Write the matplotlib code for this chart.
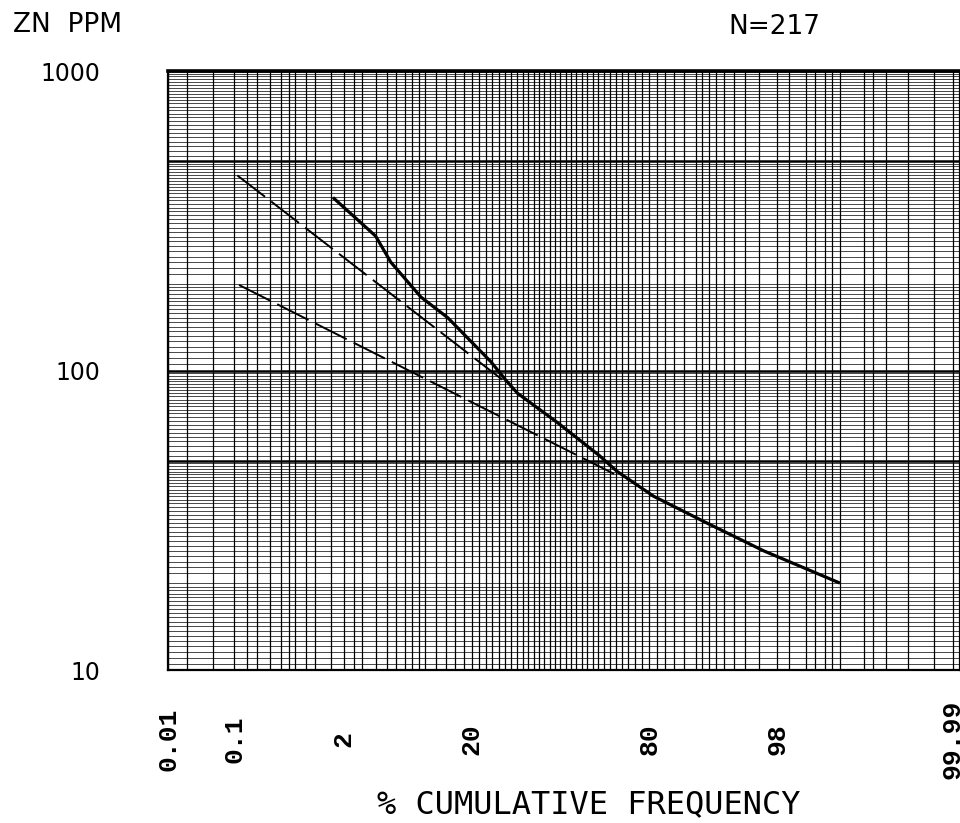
import math
import numpy as np
import matplotlib
matplotlib.use("Agg")
import matplotlib.pyplot as plt
from matplotlib.ticker import NullFormatter

# cumulative frequency (%) vs Zn ppm
solid_pct = [1.6, 4.0, 5.4, 9.3, 14.3, 25.5, 30.2, 34.2, 48.9, 64.4, 70.5, 81.2, 91.7, 97.3, 99.58]
solid_ppm = [375, 281, 230, 176, 150, 107, 93, 84, 67, 52, 46, 38, 31, 25, 19.6]

upper_pct = [0.11, 29.2]
upper_ppm = [448, 93]

lower_pct = [0.116, 71.1]
lower_ppm = [193, 44.3]

xtick_vals = [0.01, 0.1, 2, 20, 80, 98, 99.99]
xtick_text = ["0.01", "0.1", "2", "20", "80", "98", "99.99"]
ytick_vals = [10, 50, 100, 500, 1000]
ytick_text = ["10", "", "100", "", "1000"]

# probability paper rulings
prob_grid = ([0.01, 0.02, 0.05, 0.1, 0.15, 0.2, 0.3, 0.4, 0.5, 0.6, 0.8, 1, 1.5, 2, 2.5, 3, 4, 5, 6, 7, 8, 9, 10]
             + list(range(12, 90, 2))
             + [90, 91, 92, 93, 94, 95, 96, 97, 98, 98.5, 99, 99.2, 99.4, 99.5, 99.6, 99.8, 99.85, 99.9, 99.95, 99.98, 99.99])
log_steps = list(np.arange(1.05, 2.0, 0.05)) + list(np.arange(2.1, 5.0, 0.1)) + list(np.arange(5.2, 10.0, 0.2))
ppm_grid = [d * k for d in (10, 100) for k in log_steps]


# normal quantile (Acklam) and cdf, for the probability axis
A = [-3.969683028665376e+01, 2.209460984245205e+02, -2.759285104469687e+02,
     1.383577518672690e+02, -3.066479806614716e+01, 2.506628277459239e+00]
B = [-5.447609879822406e+01, 1.615858368580409e+02, -1.556989798598866e+02,
     6.680131188771972e+01, -1.328068155288572e+01]
C = [-7.784894002430293e-03, -3.223964580411365e-01, -2.400758277161838e+00,
     -2.549671010173334e+00, 4.374664141464968e+00, 2.938163982698783e+00]
D = [7.784695709041462e-03, 3.224671290700398e-01, 2.445134137142996e+00,
     3.754408661907416e+00]


def ppf(p):
    p = np.clip(p, 1e-12, 1 - 1e-12)
    plow = 0.02425
    q = np.sqrt(-2 * np.log(np.minimum(p, 1 - p)))
    tail = (((((C[0]*q + C[1])*q + C[2])*q + C[3])*q + C[4])*q + C[5]) / \
           ((((D[0]*q + D[1])*q + D[2])*q + D[3])*q + 1)
    tail = np.where(p < 0.5, tail, -tail)
    qc = p - 0.5
    r = qc * qc
    mid = (((((A[0]*r + A[1])*r + A[2])*r + A[3])*r + A[4])*r + A[5]) * qc / \
          (((((B[0]*r + B[1])*r + B[2])*r + B[3])*r + B[4])*r + 1)
    return np.where((p >= plow) & (p <= 1 - plow), mid, tail)


erf = np.vectorize(math.erf)


def forward(pct):
    return ppf(np.asarray(pct, dtype=float) / 100.0)


def inverse(z):
    return 50.0 * (1 + erf(np.asarray(z, dtype=float) / math.sqrt(2)))


fig = plt.figure(figsize=(9.6, 8.23), dpi=100)
ax = fig.add_axes([168 / 960, 1 - 670 / 823, (960 - 168) / 960, (670 - 71) / 823])

ax.set_xscale("function", functions=(forward, inverse))
ax.set_yscale("log")
ax.set_xlim(0.01, 99.9924)
ax.set_ylim(10, 1000)

ax.set_axisbelow(True)
ax.set_xticks(prob_grid, minor=True)
ax.set_yticks(ppm_grid, minor=True)
ax.xaxis.set_minor_formatter(NullFormatter())
ax.yaxis.set_minor_formatter(NullFormatter())
ax.grid(axis="x", which="minor", color="black", lw=0.9)
ax.grid(axis="y", which="minor", color="black", lw=0.5)
ax.grid(axis="y", which="major", color="black", lw=1.8)
ax.grid(axis="x", which="major", color="black", lw=0.9)

ax.plot(solid_pct, solid_ppm, color="black", lw=2.3, zorder=4)
ax.plot(upper_pct, upper_ppm, color="black", lw=1.4, ls=(0, (18, 4)), zorder=4)
ax.plot(lower_pct, lower_ppm, color="black", lw=1.4, ls=(0, (18, 4)), zorder=4)

ax.set_xticks(xtick_vals)
ax.set_xticklabels(xtick_text, rotation=90, family="Liberation Mono",
                   fontweight="bold", fontsize=19)
for lab in ax.get_xticklabels():
    lab.set_verticalalignment("center")
ax.tick_params(axis="x", which="both", length=0, pad=50)

ax.set_yticks(ytick_vals)
ax.set_yticklabels(ytick_text, fontsize=17)
ax.tick_params(axis="y", which="both", length=0, pad=49)

for side in ["left", "bottom", "right"]:
    ax.spines[side].set_linewidth(1.6)
ax.spines["top"].set_linewidth(2.6)

fig.text(13 / 960, 1 - 12 / 823, "ZN  PPM", fontsize=19, va="top", ha="left")
fig.text(728 / 960, 1 - 14 / 823, "N=217", fontsize=19, va="top", ha="left")
fig.text(589 / 960, 1 - 805 / 823, "% CUMULATIVE FREQUENCY", family="DejaVu Sans Mono",
         fontsize=23, ha="center", va="center")

fig.savefig("out.png", dpi=100, facecolor="white")
